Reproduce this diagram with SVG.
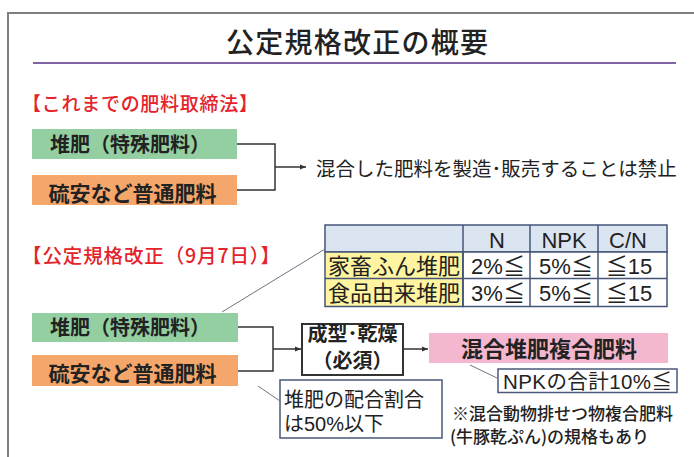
<svg xmlns="http://www.w3.org/2000/svg" width="694" height="457" viewBox="0 0 694 457">
<style>
text{font-family:"Liberation Sans","Noto Sans CJK JP",sans-serif;fill:#222}
.j{font-family:"Noto Sans CJK JP",sans-serif}
.b{font-weight:bold}
.red{fill:#E4232C;font-weight:500}
.mid{text-anchor:middle}
.conn{fill:none;stroke:#333;stroke-width:1.5}
.lead{fill:none;stroke:#6F7480;stroke-width:1}
.cell{stroke:#45557A;stroke-width:1.5}
.tt{font-size:22px;text-anchor:middle}
.green{fill:#93CFA0}
.orange{fill:#F5A66A}
.note{stroke:#4A5A7A;stroke-width:1.5;fill:#fff}
</style>
<defs>
<marker id="ah" markerWidth="8" markerHeight="8" refX="6" refY="4" orient="auto" markerUnits="userSpaceOnUse"><path d="M0,1.5 L6,4 L0,6.5 z" fill="#333"/></marker>
</defs>
<rect width="694" height="457" fill="#fff"/>
<path d="M8,470 V13 H700" fill="none" stroke="#7F7F7F" stroke-width="2"/>
<g id="title">
<text class="j mid" x="357" y="53" font-size="28" font-weight="500" textLength="262">公定規格改正の概要</text>
<line x1="33" y1="63" x2="676" y2="63" stroke="#8064A2" stroke-width="2"/>
</g>
<text class="j red" x="22" y="111" font-size="19" textLength="236">【これまでの肥料取締法】</text>
<g id="old-compost"><rect class="green" x="32" y="129" width="205" height="30"/><text class="j b mid" x="130" y="151.5" font-size="20">堆肥（特殊肥料）</text></g>
<g id="old-chem"><rect class="orange" x="32" y="175" width="205" height="30"/><text class="j b mid" x="132.5" y="201" font-size="21">硫安など普通肥料</text></g>
<g id="old-result"><text class="j" x="316" y="175.5" font-size="19.5">混合した肥料を製造･販売することは禁止</text></g>
<text class="j red" x="22" y="263" font-size="19.5" textLength="258">【公定規格改正（9月7日）】</text>
<g id="table">
<rect x="325" y="225" width="342" height="27" fill="#DBE5F1" class="cell"/>
<rect x="325" y="252" width="138" height="54.5" fill="#FFF5A0" class="cell"/>
<rect x="463" y="252" width="204" height="54.5" fill="#fff" class="cell"/>
<g class="cell" fill="none">
<line x1="463" y1="225" x2="463" y2="306.5"/><line x1="530" y1="225" x2="530" y2="306.5"/><line x1="598" y1="225" x2="598" y2="306.5"/>
<line x1="325" y1="278.5" x2="667" y2="278.5"/>
</g>
<text class="tt" x="497" y="248">N</text><text class="tt" x="564" y="248">NPK</text><text class="tt" x="628" y="248">C/N</text>
<text x="328" y="274" font-size="22" textLength="132">家畜ふん堆肥</text>
<text class="tt" x="498" y="274">2%≦</text><text class="tt" x="566" y="274">5%≦</text><text class="tt" x="629" y="274">≦15</text>
<text x="328" y="300.5" font-size="22" textLength="132">食品由来堆肥</text>
<text class="tt" x="498" y="300.5">3%≦</text><text class="tt" x="566" y="300.5">5%≦</text><text class="tt" x="629" y="300.5">≦15</text>
</g>
<g id="new-compost"><rect class="green" x="32" y="313" width="206" height="29"/><text class="j b mid" x="130" y="335" font-size="20">堆肥（特殊肥料）</text></g>
<g id="new-chem"><rect class="orange" x="32" y="355" width="206" height="31"/><text class="j b mid" x="132.5" y="381" font-size="21">硫安など普通肥料</text></g>
<g id="process"><rect x="302" y="324" width="101" height="51" fill="#fff" stroke="#333" stroke-width="2"/><text class="j b mid" x="352.5" y="341" font-size="20">成型･乾燥</text><text class="j b mid" x="352.5" y="368" font-size="20">（必須）</text></g>
<g id="product"><rect x="429" y="333" width="239" height="30" fill="#F3B7CF"/><text class="j b mid" x="549" y="357" font-size="22">混合堆肥複合肥料</text></g>
<g id="npk-note"><rect class="note" x="498" y="369" width="179" height="23.5"/><text x="503" y="389" font-size="20.5" textLength="169">NPKの合計10%≦</text></g>
<g id="ratio-note"><rect class="note" x="280" y="380" width="162" height="58"/><text class="j" x="284" y="407" font-size="20">堆肥の配合割合</text><text x="284" y="431" font-size="20">は50%以下</text></g>
<g id="footnote"><text class="j" x="452" y="420" font-size="17" font-weight="500" fill="#333">※混合動物排せつ物複合肥料</text><text class="j" x="450" y="443" font-size="17" font-weight="500" fill="#333">(牛豚乾ぷん)の規格もあり</text></g>
<g id="connectors">
<path class="conn" d="M237,144 H275 V190 H237"/>
<path class="conn" d="M275,167 H306" marker-end="url(#ah)"/>
<path class="conn" d="M238,327 H273 V371 H238"/>
<path class="conn" d="M273,349 H301" marker-end="url(#ah)"/>
<path class="conn" d="M403,349 H428" marker-end="url(#ah)"/>
<path class="lead" d="M222,312 L325,249"/>
<path class="lead" d="M470,365 L497,378"/>
<path class="lead" d="M258,386 L280,401"/>
</g>
</svg>
